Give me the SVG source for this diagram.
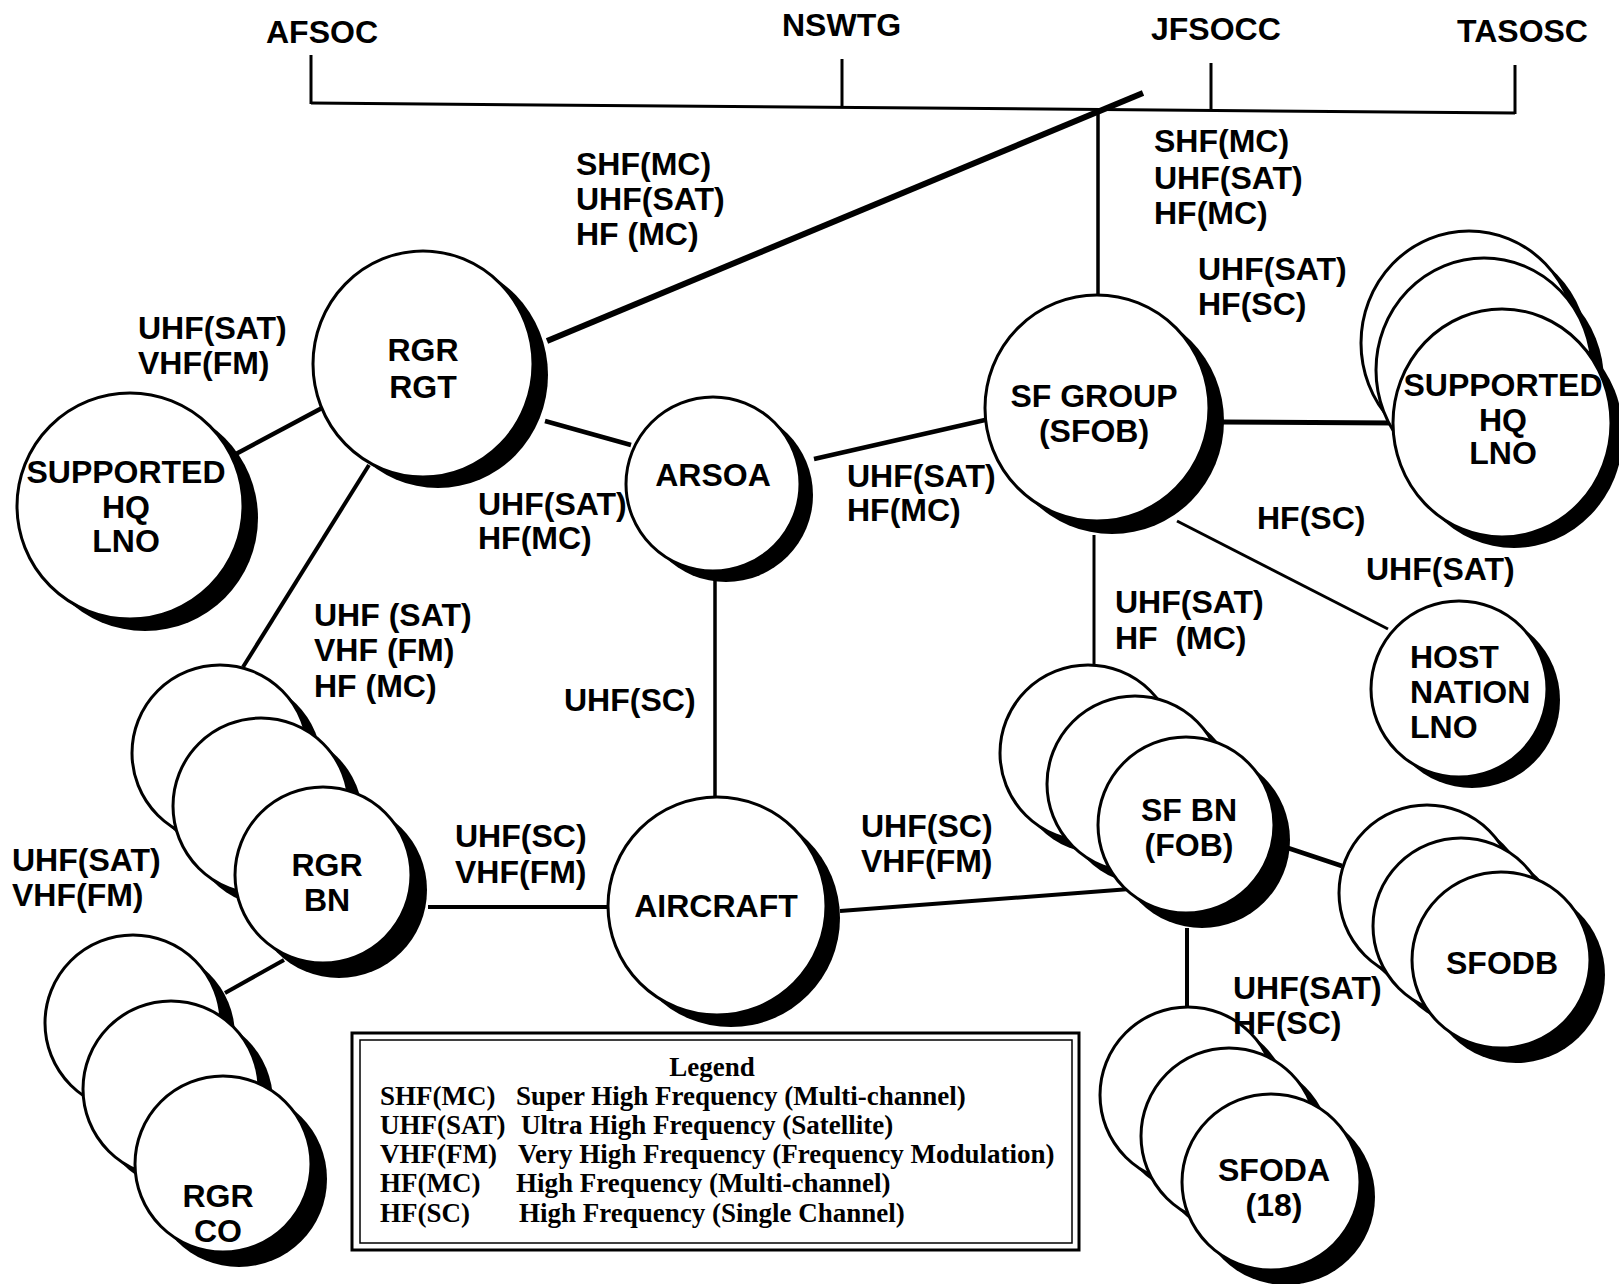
<svg xmlns="http://www.w3.org/2000/svg" width="1619" height="1284" viewBox="0 0 1619 1284">
<style>
.bg{fill:#fff}
.c{fill:#fff;stroke:#000;stroke-width:3}
.s{fill:#000}
.t{font-family:"Liberation Sans",Arial,Helvetica,sans-serif;font-weight:bold;font-size:32px;fill:#000}
.m{text-anchor:middle}
.ln{stroke:#000;fill:none;stroke-linecap:butt}
.lg{font-family:"Liberation Serif","Times New Roman",serif;font-weight:bold;font-size:27px;fill:#000}
</style>
<rect class="bg" x="0" y="0" width="1619" height="1284"/>

<g id="connectors">
  <!-- command bus -->
  <line class="ln" stroke-width="3" x1="311" y1="103" x2="1515" y2="113"/>
  <line class="ln" stroke-width="3" x1="311" y1="55" x2="311" y2="104"/>
  <line class="ln" stroke-width="3" x1="842" y1="59" x2="842" y2="108"/>
  <line class="ln" stroke-width="3" x1="1211" y1="63" x2="1211" y2="111"/>
  <line class="ln" stroke-width="3" x1="1515" y1="65" x2="1515" y2="114"/>
  <line class="ln" stroke-width="6" x1="547" y1="341" x2="1143" y2="93"/>
  <line class="ln" stroke-width="3.5" x1="1098" y1="109" x2="1098" y2="296"/>
  <!-- network -->
  <line class="ln" stroke-width="4.5" x1="322" y1="408" x2="234" y2="455"/>
  <line class="ln" stroke-width="4.5" x1="545" y1="421" x2="631" y2="445"/>
  <line class="ln" stroke-width="4.5" x1="814" y1="459" x2="985" y2="420"/>
  <line class="ln" stroke-width="5" x1="1222" y1="422" x2="1396" y2="423"/>
  <line class="ln" stroke-width="3" x1="1177" y1="521" x2="1388" y2="629"/>
  <line class="ln" stroke-width="3" x1="1094" y1="535" x2="1094" y2="667"/>
  <line class="ln" stroke-width="4" x1="369" y1="465" x2="243" y2="667"/>
  <line class="ln" stroke-width="3.5" x1="715" y1="574" x2="715" y2="808"/>
  <line class="ln" stroke-width="4" x1="428" y1="907" x2="608" y2="907"/>
  <line class="ln" stroke-width="4" x1="840" y1="911" x2="1130" y2="889"/>
  <line class="ln" stroke-width="4" x1="284" y1="960" x2="225" y2="993"/>
  <line class="ln" stroke-width="4.5" x1="1288" y1="848" x2="1342" y2="866"/>
  <line class="ln" stroke-width="4" x1="1187" y1="928" x2="1187" y2="1008"/>
</g>

<g id="node-rgr-rgt">
  <ellipse class="s" cx="438" cy="375" rx="110" ry="113"/>
  <ellipse class="c" cx="423" cy="364" rx="110" ry="113"/>
  <text class="t m" x="423" y="361">RGR</text>
  <text class="t m" x="423" y="398">RGT</text>
</g>

<g id="node-supported-hq-left">
  <ellipse class="s" cx="145" cy="518" rx="113" ry="113"/>
  <ellipse class="c" cx="130" cy="506" rx="113" ry="113"/>
  <text class="t m" x="126" y="483">SUPPORTED</text>
  <text class="t m" x="126" y="518">HQ</text>
  <text class="t m" x="126" y="552">LNO</text>
</g>

<g id="node-arsoa">
  <ellipse class="s" cx="726" cy="495" rx="87" ry="87"/>
  <ellipse class="c" cx="713" cy="484" rx="87" ry="87"/>
  <text class="t m" x="713" y="486">ARSOA</text>
</g>

<g id="node-sf-group">
  <ellipse class="s" cx="1112" cy="421" rx="112" ry="113"/>
  <ellipse class="c" cx="1097" cy="408" rx="112" ry="113"/>
  <text class="t m" x="1094" y="407">SF GROUP</text>
  <text class="t m" x="1094" y="442">(SFOB)</text>
</g>

<g id="node-supported-hq-right">
  <ellipse class="s" cx="1481" cy="354" rx="108" ry="112"/>
  <ellipse class="c" cx="1469" cy="343" rx="108" ry="112"/>
  <ellipse class="s" cx="1496" cy="381" rx="108" ry="112"/>
  <ellipse class="c" cx="1484" cy="370" rx="108" ry="112"/>
  <ellipse class="s" cx="1514" cy="434" rx="109" ry="114"/>
  <ellipse class="c" cx="1502" cy="423" rx="109" ry="114"/>
  <text class="t m" x="1503" y="396">SUPPORTED</text>
  <text class="t m" x="1503" y="431">HQ</text>
  <text class="t m" x="1503" y="464">LNO</text>
</g>

<g id="node-host-nation">
  <ellipse class="s" cx="1472" cy="700" rx="88" ry="88"/>
  <ellipse class="c" cx="1459" cy="689" rx="88" ry="88"/>
  <text class="t" x="1410" y="668">HOST</text>
  <text class="t" x="1410" y="703">NATION</text>
  <text class="t" x="1410" y="738">LNO</text>
</g>

<g id="node-rgr-bn">
  <ellipse class="s" cx="234" cy="766" rx="88" ry="88"/>
  <ellipse class="c" cx="220" cy="753" rx="88" ry="88"/>
  <ellipse class="s" cx="275" cy="819" rx="88" ry="88"/>
  <ellipse class="c" cx="261" cy="806" rx="88" ry="88"/>
  <ellipse class="s" cx="339" cy="890" rx="88" ry="88"/>
  <ellipse class="c" cx="323" cy="875" rx="88" ry="88"/>
  <text class="t m" x="327" y="876">RGR</text>
  <text class="t m" x="327" y="911">BN</text>
</g>

<g id="node-rgr-co">
  <ellipse class="s" cx="147" cy="1036" rx="88" ry="88"/>
  <ellipse class="c" cx="133" cy="1023" rx="88" ry="88"/>
  <ellipse class="s" cx="185" cy="1102" rx="88" ry="88"/>
  <ellipse class="c" cx="171" cy="1089" rx="88" ry="88"/>
  <ellipse class="s" cx="239" cy="1179" rx="88" ry="88"/>
  <ellipse class="c" cx="223" cy="1164" rx="88" ry="88"/>
  <text class="t m" x="218" y="1207">RGR</text>
  <text class="t m" x="218" y="1242">CO</text>
</g>

<g id="node-aircraft">
  <ellipse class="s" cx="731" cy="918" rx="109" ry="109"/>
  <ellipse class="c" cx="717" cy="906" rx="109" ry="109"/>
  <text class="t m" x="716" y="917">AIRCRAFT</text>
</g>

<g id="node-sf-bn">
  <ellipse class="s" cx="1102" cy="766" rx="88" ry="88"/>
  <ellipse class="c" cx="1088" cy="753" rx="88" ry="88"/>
  <ellipse class="s" cx="1149" cy="797" rx="88" ry="88"/>
  <ellipse class="c" cx="1135" cy="784" rx="88" ry="88"/>
  <ellipse class="s" cx="1202" cy="840" rx="88" ry="88"/>
  <ellipse class="c" cx="1186" cy="825" rx="88" ry="88"/>
  <text class="t m" x="1189" y="821">SF BN</text>
  <text class="t m" x="1189" y="856">(FOB)</text>
</g>

<g id="node-sfodb">
  <ellipse class="s" cx="1441" cy="906" rx="88" ry="88"/>
  <ellipse class="c" cx="1427" cy="893" rx="88" ry="88"/>
  <ellipse class="s" cx="1475" cy="939" rx="88" ry="88"/>
  <ellipse class="c" cx="1461" cy="926" rx="88" ry="88"/>
  <ellipse class="s" cx="1516" cy="975" rx="89" ry="88"/>
  <ellipse class="c" cx="1501" cy="960" rx="89" ry="88"/>
  <text class="t m" x="1502" y="974">SFODB</text>
</g>

<g id="node-sfoda">
  <ellipse class="s" cx="1202" cy="1108" rx="88" ry="88"/>
  <ellipse class="c" cx="1188" cy="1095" rx="88" ry="88"/>
  <ellipse class="s" cx="1243" cy="1149" rx="88" ry="88"/>
  <ellipse class="c" cx="1229" cy="1136" rx="88" ry="88"/>
  <ellipse class="s" cx="1286" cy="1197" rx="89" ry="88"/>
  <ellipse class="c" cx="1271" cy="1182" rx="89" ry="88"/>
  <text class="t m" x="1274" y="1181">SFODA</text>
  <text class="t m" x="1274" y="1216">(18)</text>
</g>

<g id="command-labels">
  <text class="t" x="266" y="43">AFSOC</text>
  <text class="t" x="782" y="36">NSWTG</text>
  <text class="t" x="1151" y="40">JFSOCC</text>
  <text class="t" x="1457" y="42">TASOSC</text>
</g>

<g id="link-labels">
  <text class="t" x="576" y="175">SHF(MC)</text>
  <text class="t" x="576" y="210">UHF(SAT)</text>
  <text class="t" x="576" y="245">HF (MC)</text>

  <text class="t" x="1154" y="152">SHF(MC)</text>
  <text class="t" x="1154" y="189">UHF(SAT)</text>
  <text class="t" x="1154" y="224">HF(MC)</text>

  <text class="t" x="1198" y="280">UHF(SAT)</text>
  <text class="t" x="1198" y="315">HF(SC)</text>

  <text class="t" x="138" y="339">UHF(SAT)</text>
  <text class="t" x="138" y="374">VHF(FM)</text>

  <text class="t" x="478" y="515">UHF(SAT)</text>
  <text class="t" x="478" y="549">HF(MC)</text>

  <text class="t" x="847" y="487">UHF(SAT)</text>
  <text class="t" x="847" y="521">HF(MC)</text>

  <text class="t" x="1257" y="529">HF(SC)</text>
  <text class="t" x="1366" y="580">UHF(SAT)</text>

  <text class="t" x="1115" y="613">UHF(SAT)</text>
  <text class="t" x="1115" y="649" xml:space="preserve">HF  (MC)</text>

  <text class="t" x="314" y="626">UHF (SAT)</text>
  <text class="t" x="314" y="661">VHF (FM)</text>
  <text class="t" x="314" y="697">HF (MC)</text>

  <text class="t" x="564" y="711">UHF(SC)</text>

  <text class="t" x="455" y="847">UHF(SC)</text>
  <text class="t" x="455" y="883">VHF(FM)</text>

  <text class="t" x="861" y="837">UHF(SC)</text>
  <text class="t" x="861" y="872">VHF(FM)</text>

  <text class="t" x="12" y="871">UHF(SAT)</text>
  <text class="t" x="12" y="906">VHF(FM)</text>

  <text class="t" x="1233" y="999">UHF(SAT)</text>
  <text class="t" x="1233" y="1034">HF(SC)</text>
</g>

<g id="legend">
  <rect x="352" y="1033" width="727" height="217" fill="#fff" stroke="#000" stroke-width="3"/>
  <rect x="360" y="1040" width="712" height="203" fill="none" stroke="#000" stroke-width="1.5"/>
  <text class="lg" x="712" y="1076" text-anchor="middle">Legend</text>
  <text class="lg" x="380" y="1105">SHF(MC)</text>
  <text class="lg" x="516" y="1105">Super High Frequency (Multi-channel)</text>
  <text class="lg" x="380" y="1134">UHF(SAT)</text>
  <text class="lg" x="521" y="1134">Ultra High Frequency (Satellite)</text>
  <text class="lg" x="380" y="1163">VHF(FM)</text>
  <text class="lg" x="518" y="1163">Very High Frequency (Frequency Modulation)</text>
  <text class="lg" x="380" y="1192">HF(MC)</text>
  <text class="lg" x="516" y="1192">High Frequency (Multi-channel)</text>
  <text class="lg" x="380" y="1222">HF(SC)</text>
  <text class="lg" x="519" y="1222">High Frequency (Single Channel)</text>
</g>
</svg>
